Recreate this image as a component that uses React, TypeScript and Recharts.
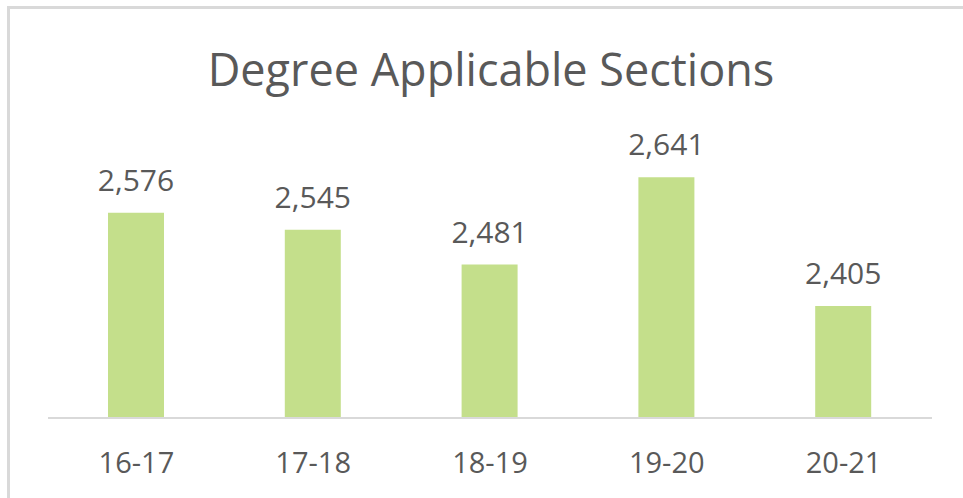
import React from 'react';
import { BarChart, Bar, XAxis, YAxis, LabelList, Customized } from 'recharts';

const categories = ['16-17', '17-18', '18-19', '19-20', '20-21'];
const sections = [2576, 2545, 2481, 2641, 2405];
const title = 'Degree Applicable Sections';

const data = categories.map((c, i) => ({ year: c, value: sections[i] }));

const FONT = '"Open Sans", "Noto Sans", sans-serif';
const TEXT = '#595959';

const Title = () => (
  <text x={491} y={86} textAnchor="middle" fontFamily={FONT} fontSize={45} fill={TEXT}>
    {title}
  </text>
);

export default function App() {
  return (
    <div style={{ position: 'absolute', left: 0, top: 0, width: 963, height: 498, background: '#fff' }}>
      <div
        style={{
          position: 'absolute',
          left: 7,
          top: 6,
          width: 956,
          height: 492,
          borderLeft: '3px solid #d9d9d9',
          borderTop: '3px solid #d9d9d9',
          boxSizing: 'border-box',
        }}
      />
      <div style={{ position: 'absolute', left: 0, top: 0 }}>
        <BarChart width={963} height={498} data={data} margin={{ top: 145, right: 31, bottom: 0, left: 48 }}>
          <XAxis
            dataKey="year"
            height={80}
            tickLine={false}
            tickSize={0}
            tickMargin={34}
            axisLine={{ stroke: '#d9d9d9', strokeWidth: 2 }}
            tick={{ fill: TEXT, fontSize: 29, fontFamily: FONT }}
            interval={0}
          />
          <YAxis hide domain={[2200, 2700]} allowDataOverflow />
          <Bar dataKey="value" fill="#c4df8b" barSize={56} isAnimationActive={false}>
            <LabelList
              dataKey="value"
              position="top"
              offset={22}
              formatter={(v: number) => v.toLocaleString('en-US')}
              style={{ fill: TEXT, fontSize: 30, fontFamily: FONT }}
            />
          </Bar>
          <Customized component={Title} />
        </BarChart>
      </div>
    </div>
  );
}
